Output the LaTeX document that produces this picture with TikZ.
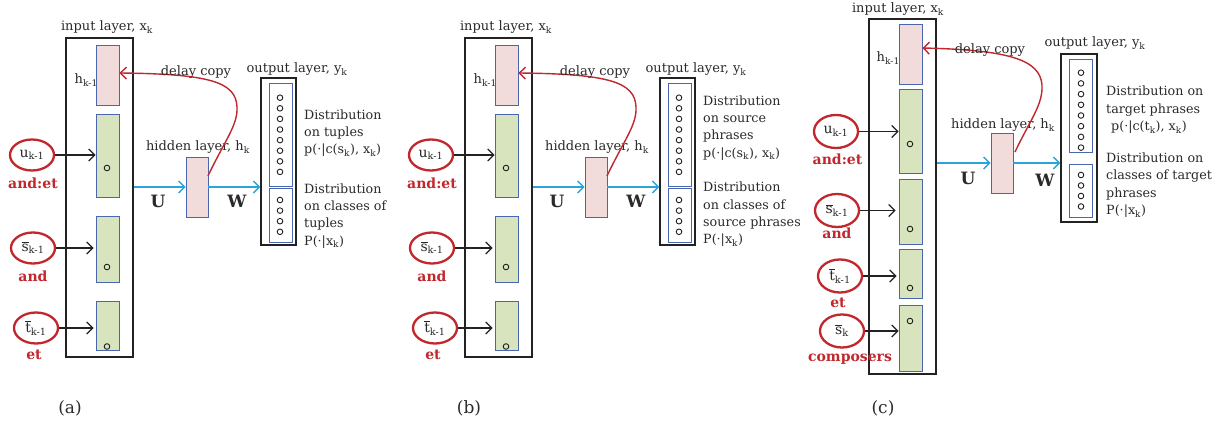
\documentclass[tikz,border=0pt]{standalone}
\usepackage{fontspec}
\setmainfont{DejaVu Serif}
\usetikzlibrary{arrows.meta,shapes.geometric}
\definecolor{pinkfill}{HTML}{F2DCDB}
\definecolor{greenfill}{HTML}{D7E4BD}
\definecolor{bluecol}{HTML}{4A66B0}
\definecolor{redcol}{HTML}{C1272D}
\definecolor{cyancol}{HTML}{2AA5DC}
\definecolor{boxcol}{HTML}{222222}
\definecolor{txtcol}{HTML}{2A2A2A}
\newcommand\ovs{\ensuremath{\overline{\hbox{s}}}}
\newcommand\ovt{\ensuremath{\overline{\hbox{t}}}}
\tikzset{
  outerbox/.style={draw=boxcol, line width=1.2pt, inner sep=0pt, rectangle},
  pinkbox/.style={draw=bluecol, fill=pinkfill, line width=0.9pt, inner sep=0pt, minimum width=23pt},
  greenbox/.style={draw=bluecol, fill=greenfill, line width=0.9pt, inner sep=0pt, minimum width=23pt},
  obox/.style={draw=bluecol, line width=0.9pt, inner sep=0pt, minimum width=23pt},
  unit/.style={circle, draw=boxcol, line width=0.9pt, inner sep=0pt, minimum size=5.6pt},
  wordell/.style={ellipse, draw=redcol, line width=2.3pt, minimum width=44pt, minimum height=31pt, inner sep=0pt, text=txtcol, font=\fontsize{14}{16}\selectfont},
  redword/.style={inner sep=0pt, text=redcol, font=\fontsize{14}{16}\selectfont\bfseries},
  lbl/.style={inner sep=0pt, text=txtcol, font=\fontsize{13}{15}\selectfont},
  caplbl/.style={inner sep=0pt, text=txtcol, font=\fontsize{17}{19}\selectfont},
  wlbl/.style={inner sep=0pt, text=txtcol, font=\fontsize{17}{19}\selectfont\bfseries},
  disttext/.style={inner sep=0pt, text=txtcol, align=left, anchor=north west, font=\fontsize{12.7}{17.3}\selectfont},
  inarrow/.style={-{Straight Barb[length=6pt,width=12pt]}, draw=boxcol, line width=1.2pt},
  bluearrow/.style={-{Straight Barb[length=6pt,width=12pt]}, draw=cyancol, line width=1.4pt},
  delay/.style={-{Straight Barb[length=6pt,width=12pt]}, draw=redcol, line width=1.4pt}
}
% #1 prefix, #2 xshift, #3 panel label, #4 text1, #5 y1, #6 text2, #7 y2
\newcommand\panelab[7]{%
\begin{scope}[xshift=#2pt]
  \node[outerbox, minimum width=67pt, minimum height=319pt] (#1-in) at (99.5,197.5) {};
  \node[pinkbox, minimum height=60pt] (#1-h) at (107.5,75) {};
  \node[greenbox, minimum height=83pt] (#1-g1) at (107.5,155.5) {};
  \node[greenbox, minimum height=66pt] (#1-g2) at (107.5,249) {};
  \node[greenbox, minimum height=49pt] (#1-g3) at (107.5,325.5) {};
  \node[unit] (#1-c1) at (107,168) {};
  \node[unit] (#1-c2) at (107,267) {};
  \node[unit] (#1-c3) at (107,346.5) {};
  \node[lbl] (#1-inlbl) at (107,27) {input layer, x\textsubscript{k}};
  \node[lbl, anchor=east] (#1-hlbl) at (98,80) {h\textsubscript{k-1}};
  \node[wordell] (#1-u) at (32,155) {u\textsubscript{k-1}};
  \node[redword] (#1-uw) at (33,183) {and:et};
  \node[wordell] (#1-s) at (33,248) {\ovs\textsubscript{k-1}};
  \node[redword] (#1-sw) at (33,276) {and};
  \node[wordell] (#1-t) at (36,328) {\ovt\textsubscript{k-1}};
  \node[redword] (#1-tw) at (34,355) {et};
  \draw[inarrow] (#1-u.east) -- (#1-u.east -| #1-g1.west);
  \draw[inarrow] (#1-s.east) -- ([xshift=-2pt]#1-s.east -| #1-g2.west);
  \draw[inarrow] (#1-t.east) -- ([xshift=-2pt]#1-t.east -| #1-g3.west);
  \node[pinkbox, minimum width=22pt, minimum height=60pt] (#1-hid) at (197,187) {};
  \node[lbl] (#1-hidlbl) at (198,147) {hidden layer, h\textsubscript{k}};
  \draw[bluearrow] (#1-hid.west -| #1-in.east) -- (#1-hid.west);
  \node[wlbl] (#1-U) at (158,201) {U};
  \node[outerbox, minimum width=35pt, minimum height=167pt] (#1-out) at (278.5,161.5) {};
  \node[obox, minimum height=103pt] (#1-o1) at (280.5,134.5) {};
  \node[obox, minimum height=54pt] (#1-o2) at (280.5,215) {};
  \foreach \i in {0,...,7} {\node[unit] (#1-oa\i) at (280,97.7+10.6*\i) {};}
  \foreach \i in {0,...,3} {\node[unit] (#1-ob\i) at (280,200+10.6*\i) {};}
  \draw[bluearrow] (#1-hid.east) -- (#1-hid.east -| #1-out.west);
  \node[wlbl] (#1-W) at (237,201) {W};
  \coordinate (#1-cs) at (208,176);
  \draw[delay] (#1-cs) .. controls (225,140) and (238,125) .. (237,107)
     .. controls (236,82) and (210,74) .. ([yshift=2pt]#1-h.east);
  \node[lbl] (#1-dc) at (196,72) {delay copy};
  \node[lbl] (#1-outlbl) at (297,69) {output layer, y\textsubscript{k}};
  \node[disttext] (#1-d1) at (304,#5) {#4};
  \node[disttext] (#1-d2) at (304,#7) {#6};
  \node[caplbl] (#1-cap) at (70,408) {#3};
\end{scope}}
\begin{document}
\begin{tikzpicture}[x=1pt,y=-1pt]
\path[fill=white, use as bounding box] (0,0) rectangle (1215,427);
\panelab{a}{0}{(a)}{Distribution\\on tuples\\p(·|c(s\textsubscript{k}), x\textsubscript{k})}{109.5}{Distribution\\on classes of\\tuples\\P(·|x\textsubscript{k})}{183.5}
\panelab{b}{399}{(b)}{Distribution\\on source\\phrases\\p(·|c(s\textsubscript{k}), x\textsubscript{k})}{95.4}{Distribution\\on classes of\\source phrases\\P(·|x\textsubscript{k})}{182}
% panel (c)
\node[outerbox, minimum width=67pt, minimum height=355pt] (c-in) at (902.5,196.5) {};
\node[pinkbox, minimum height=60pt] (c-h) at (910.5,54) {};
\node[greenbox, minimum height=84pt] (c-g1) at (910.5,131) {};
\node[greenbox, minimum height=65pt] (c-g2) at (910.5,211.5) {};
\node[greenbox, minimum height=49pt] (c-g3) at (910.5,273.5) {};
\node[greenbox, minimum height=66pt] (c-g4) at (910.5,338) {};
\node[unit] (c-c1) at (910,144) {};
\node[unit] (c-c2) at (910,229) {};
\node[unit] (c-c3) at (910,288) {};
\node[unit] (c-c4) at (910,321) {};
\node[lbl] (c-inlbl) at (898,9) {input layer, x\textsubscript{k}};
\node[lbl, anchor=east] (c-hlbl) at (900,58) {h\textsubscript{k-1}};
\node[wordell, minimum height=33pt] (c-u) at (836,131.5) {u\textsubscript{k-1}};
\node[redword] (c-uw) at (837.5,159) {and:et};
\node[wordell, minimum height=33pt] (c-s) at (837,210.5) {\ovs\textsubscript{k-1}};
\node[redword] (c-sw) at (837,233) {and};
\node[wordell, minimum height=33pt] (c-t) at (840,276) {\ovt\textsubscript{k-1}};
\node[redword] (c-tw) at (838,303) {et};
\node[wordell, minimum height=33pt] (c-sk) at (842,331) {\ovs\textsubscript{k}};
\node[redword] (c-skw) at (850,359) {composers};
\draw[inarrow] (c-u.east) -- (c-u.east -| c-g1.west);
\draw[inarrow] (c-s.east) -- ([xshift=-3pt]c-s.east -| c-g2.west);
\draw[inarrow] (c-t.east) -- ([xshift=-2pt]c-t.east -| c-g3.west);
\draw[inarrow] (c-sk.east) -- (c-sk.east -| c-g4.west);
\node[pinkbox, minimum width=22pt, minimum height=60pt] (c-hid) at (1002,163) {};
\node[lbl] (c-hidlbl) at (1003,125) {hidden layer, h\textsubscript{k}};
\draw[bluearrow] (c-hid.west -| c-in.east) -- (c-hid.west);
\node[wlbl] (c-U) at (968,178) {U};
\node[outerbox, minimum width=36pt, minimum height=168pt] (c-out) at (1079,138) {};
\node[obox, minimum height=93pt] (c-o1) at (1080.5,105.5) {};
\node[obox, minimum height=53pt] (c-o2) at (1080.5,190.5) {};
\foreach \i in {0,...,7} {\node[unit] (c-oa\i) at (1081,72.7+10.7*\i) {};}
\foreach \i in {0,...,3} {\node[unit] (c-ob\i) at (1081,175+10.5*\i) {};}
\draw[bluearrow] (c-hid.east) -- (c-hid.east -| c-out.west);
\node[wlbl] (c-W) at (1045,180) {W};
\coordinate (c-cs) at (1015,152);
\draw[delay] (c-cs) .. controls (1030,120) and (1043,105) .. (1042,85)
   .. controls (1040,60) and (1010,50) .. ([yshift=6pt]c-h.east);
\node[lbl] (c-dc) at (990,50) {delay copy};
\node[lbl] (c-outlbl) at (1095,43) {output layer, y\textsubscript{k}};
\node[disttext] (c-d1) at (1106,86) {Distribution on\\target phrases\\\hspace*{5pt}p(·|c(t\textsubscript{k}), x\textsubscript{k})};
\node[disttext] (c-d2) at (1106,152.7) {Distribution on\\classes of target\\phrases\\P(·|x\textsubscript{k})};
\node[caplbl] (c-cap) at (883,408) {(c)};
\end{tikzpicture}
\end{document}
